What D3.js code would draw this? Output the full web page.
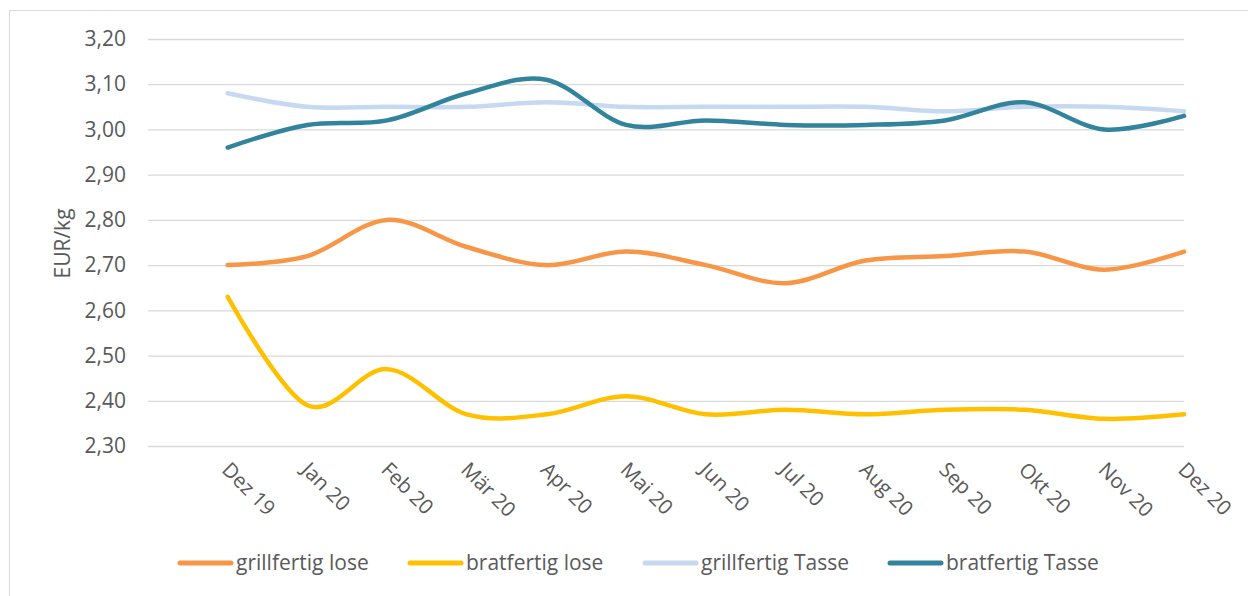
<!DOCTYPE html>
<html>
<head>
<meta charset="utf-8">
<script src="https://cdn.jsdelivr.net/npm/d3@7"></script>
<style>
  body { margin: 0; background: #fff; }
  text { font-family: "Open Sans", sans-serif; fill: #595959; }
</style>
</head>
<body>
<script>
// categories and series
var months = ["Dez 19", "Jan 20", "Feb 20", "Mär 20", "Apr 20", "Mai 20", "Jun 20",
              "Jul 20", "Aug 20", "Sep 20", "Okt 20", "Nov 20", "Dez 20"];
var grillLose   = [2.70, 2.72, 2.80, 2.74, 2.70, 2.73, 2.70, 2.66, 2.71, 2.72, 2.73, 2.69, 2.73];
var bratLose    = [2.63, 2.39, 2.47, 2.37, 2.37, 2.41, 2.37, 2.38, 2.37, 2.38, 2.38, 2.36, 2.37];
var grillTasse  = [3.08, 3.05, 3.05, 3.05, 3.06, 3.05, 3.05, 3.05, 3.05, 3.04, 3.05, 3.05, 3.04];
var bratTasse   = [2.96, 3.01, 3.02, 3.08, 3.11, 3.01, 3.02, 3.01, 3.01, 3.02, 3.06, 3.00, 3.03];
var yTicks = [2.30, 2.40, 2.50, 2.60, 2.70, 2.80, 2.90, 3.00, 3.10, 3.20];

var series = [
  {name: "grillfertig lose",  values: grillLose,  color: "#F79646"},
  {name: "bratfertig lose",   values: bratLose,   color: "#FFC000"},
  {name: "grillfertig Tasse", values: grillTasse, color: "#C6D9F1"},
  {name: "bratfertig Tasse",  values: bratTasse,  color: "#31849B"}
];

var width = 1248, height = 596;
var plot = {left: 148, right: 1184, top: 39, bottom: 446};

var svg = d3.select("body").append("svg")
    .attr("width", width)
    .attr("height", height);

// outer chart border
svg.append("rect")
    .attr("x", 9.5).attr("y", 10.5)
    .attr("width", width).attr("height", height)
    .attr("fill", "none")
    .attr("stroke", "#d9d9d9");

// category axis has one empty slot before the first month
var x = d3.scaleLinear().domain([-1, months.length - 1]).range([plot.left, plot.right]);
var y = d3.scaleLinear().domain([2.30, 3.20]).range([plot.bottom, plot.top]);

var fmt = function(d) { return d3.format(".2f")(d).replace(".", ","); };

// gridlines + y labels
var yAxis = d3.axisLeft(y)
    .tickValues(yTicks)
    .tickSize(-(plot.right - plot.left))
    .tickPadding(22)
    .tickFormat(fmt);

var gy = svg.append("g")
    .attr("transform", "translate(" + plot.left + ",0)")
    .call(yAxis);
gy.select(".domain").remove();
gy.selectAll("line").attr("stroke", "#d9d9d9").attr("stroke-width", 1.3);
gy.selectAll("text")
    .style("font-family", "'Open Sans', sans-serif")
    .style("font-size", "21px")
    .attr("fill", "#595959");

svg.append("text")
    .attr("transform", "translate(70," + ((plot.top + plot.bottom) / 2 + 1) + ") rotate(-90)")
    .attr("text-anchor", "middle")
    .style("font-size", "21px")
    .text("EUR/kg");

// month labels, rotated
svg.selectAll(".month")
    .data(months)
  .enter().append("text")
    .attr("class", "month")
    .attr("transform", function(d, i) {
      return "translate(" + (x(i) - 7) + "," + 471 + ") rotate(45)";
    })
    .attr("text-anchor", "start")
    .style("font-size", "20.5px")
    .text(function(d) { return d; });

// lines
var line = d3.line()
    .x(function(d, i) { return x(i); })
    .y(function(d) { return y(d); })
    .curve(d3.curveCardinal.tension(0));

svg.selectAll(".series")
    .data(series)
  .enter().append("path")
    .attr("class", "series")
    .attr("d", function(s) { return line(s.values); })
    .attr("fill", "none")
    .attr("stroke", function(s) { return s.color; })
    .attr("stroke-width", 4.5)
    .attr("stroke-linecap", "round")
    .attr("stroke-linejoin", "round");

// legend
var legendX = [180, 410, 645, 890];
var lg = svg.selectAll(".legend")
    .data(series)
  .enter().append("g")
    .attr("class", "legend")
    .attr("transform", function(d, i) { return "translate(" + legendX[i] + ",563)"; });

lg.append("line")
    .attr("x1", 0).attr("x2", 51)
    .attr("stroke", function(d) { return d.color; })
    .attr("stroke-width", 5)
    .attr("stroke-linecap", "round");

lg.append("text")
    .attr("x", 56)
    .attr("dy", "0.35em")
    .style("font-size", "21px")
    .text(function(d) { return d.name; });
</script>
</body>
</html>
